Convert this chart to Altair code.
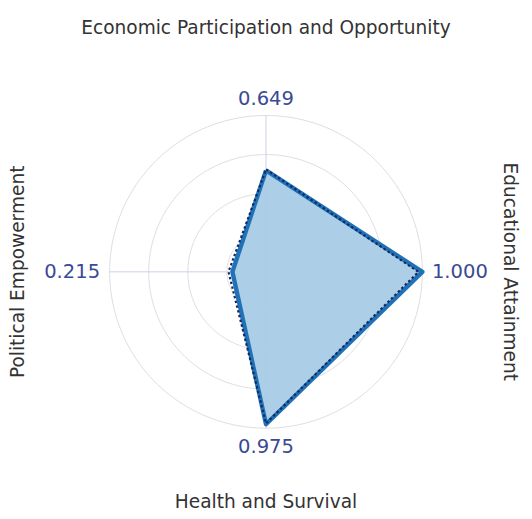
import altair as alt
import pandas as pd
import numpy as np

# ---- data ----
pillars = [
    "Economic Participation and Opportunity",
    "Educational Attainment",
    "Health and Survival",
    "Political Empowerment",
]
angles_deg = [0, 90, 180, 270]          # clockwise from top
scores = [0.649, 1.000, 0.975, 0.215]   # solid filled series
benchmark = [0.655, 0.975, 0.970, 0.240]  # dashed series
value_labels = ["0.649", "1.000", "0.975", "0.215"]
rings = [0.25, 0.50, 0.75, 1.00]

# ---- tables ----
def poly(values, name):
    rows = []
    for i, (a, v) in enumerate(zip(angles_deg + [angles_deg[0]], values + [values[0]])):
        rows.append({"series": name, "order": i, "angle": a, "r": v})
    return pd.DataFrame(rows)

solid_df = poly(scores, "score")
dash_df = poly(benchmark, "benchmark")

theta = np.linspace(0, 360, 181)
grid_df = pd.DataFrame(
    [{"ring": r, "order": i, "angle": t, "r": r} for r in rings for i, t in enumerate(theta)]
)
axes_df = pd.DataFrame({"x": [-1, 0], "x2": [1, 0], "y": [0, -1], "y2": [0, 1]})
labels_df = pd.DataFrame({"pillar": pillars, "angle": angles_deg, "label": value_labels})

xy = dict(
    x="datum.r * sin(datum.angle * PI / 180)",
    y="datum.r * cos(datum.angle * PI / 180)",
)
X = lambda f: alt.X(f, type="quantitative", scale=alt.Scale(domain=[-1, 1], nice=False, zero=False), axis=None)
Y = lambda f: alt.Y(f, type="quantitative", scale=alt.Scale(domain=[-1, 1], nice=False, zero=False), axis=None)

grid = alt.Chart(grid_df).transform_calculate(**xy).mark_line(
    color="#dcdce4", strokeWidth=1
).encode(x=X("x"), y=Y("y"), detail="ring:N", order="order:Q")

cross = alt.Chart(axes_df).mark_rule(color="#cfcfea", strokeWidth=1).encode(
    x=X("x"), x2="x2:Q", y=Y("y"), y2="y2:Q"
)

solid = alt.Chart(solid_df).transform_calculate(**xy).mark_line(
    color="#1f72b8", strokeWidth=4.5, strokeJoin="round",
    fill="#a8cbe6", fillOpacity=0.95,
).encode(x=X("x"), y=Y("y"), order="order:Q")

dashed = alt.Chart(dash_df).transform_calculate(**xy).mark_line(
    color="#17285e", strokeWidth=2.2, strokeDash=[2.5, 2.5], strokeJoin="round",
).encode(x=X("x"), y=Y("y"), order="order:Q")

vlabels = alt.Chart(labels_df).transform_calculate(
    lr="(datum.angle == 90 || datum.angle == 270) ? 1.24 : (datum.angle == 0 ? 1.106 : 1.12)",
).transform_calculate(
    x="datum.lr * sin(datum.angle * PI / 180)",
    y="datum.lr * cos(datum.angle * PI / 180)",
).mark_text(
    font="DejaVu Sans", fontSize=20, color="#3a4a94", baseline="middle", align="center"
).encode(x=X("x"), y=Y("y"), text="label:N")

titles = alt.Chart(labels_df).transform_calculate(
    tr="datum.angle == 0 ? 1.556 : (datum.angle == 180 ? 1.47 : (datum.angle == 90 ? 1.56 : 1.585))",
    rot="datum.angle == 90 ? 90 : (datum.angle == 270 ? 270 : 0)",
).transform_calculate(
    x="datum.tr * sin(datum.angle * PI / 180)",
    y="datum.tr * cos(datum.angle * PI / 180)",
).mark_text(
    font="DejaVu Sans", fontSize=19, color="#333333", baseline="middle", align="center"
).encode(x=X("x"), y=Y("y"), text="pillar:N", angle=alt.Angle("rot:Q", scale=None))

chart = alt.layer(grid, cross, solid, dashed, vlabels, titles).properties(
    width=320, height=320,
    autosize=alt.AutoSizeParams(type="none"),
    padding={"left": 104, "top": 104, "right": 104, "bottom": 90},
).configure_view(stroke=None)

chart.save("out.html", embed_options={"renderer": "svg", "actions": False})
